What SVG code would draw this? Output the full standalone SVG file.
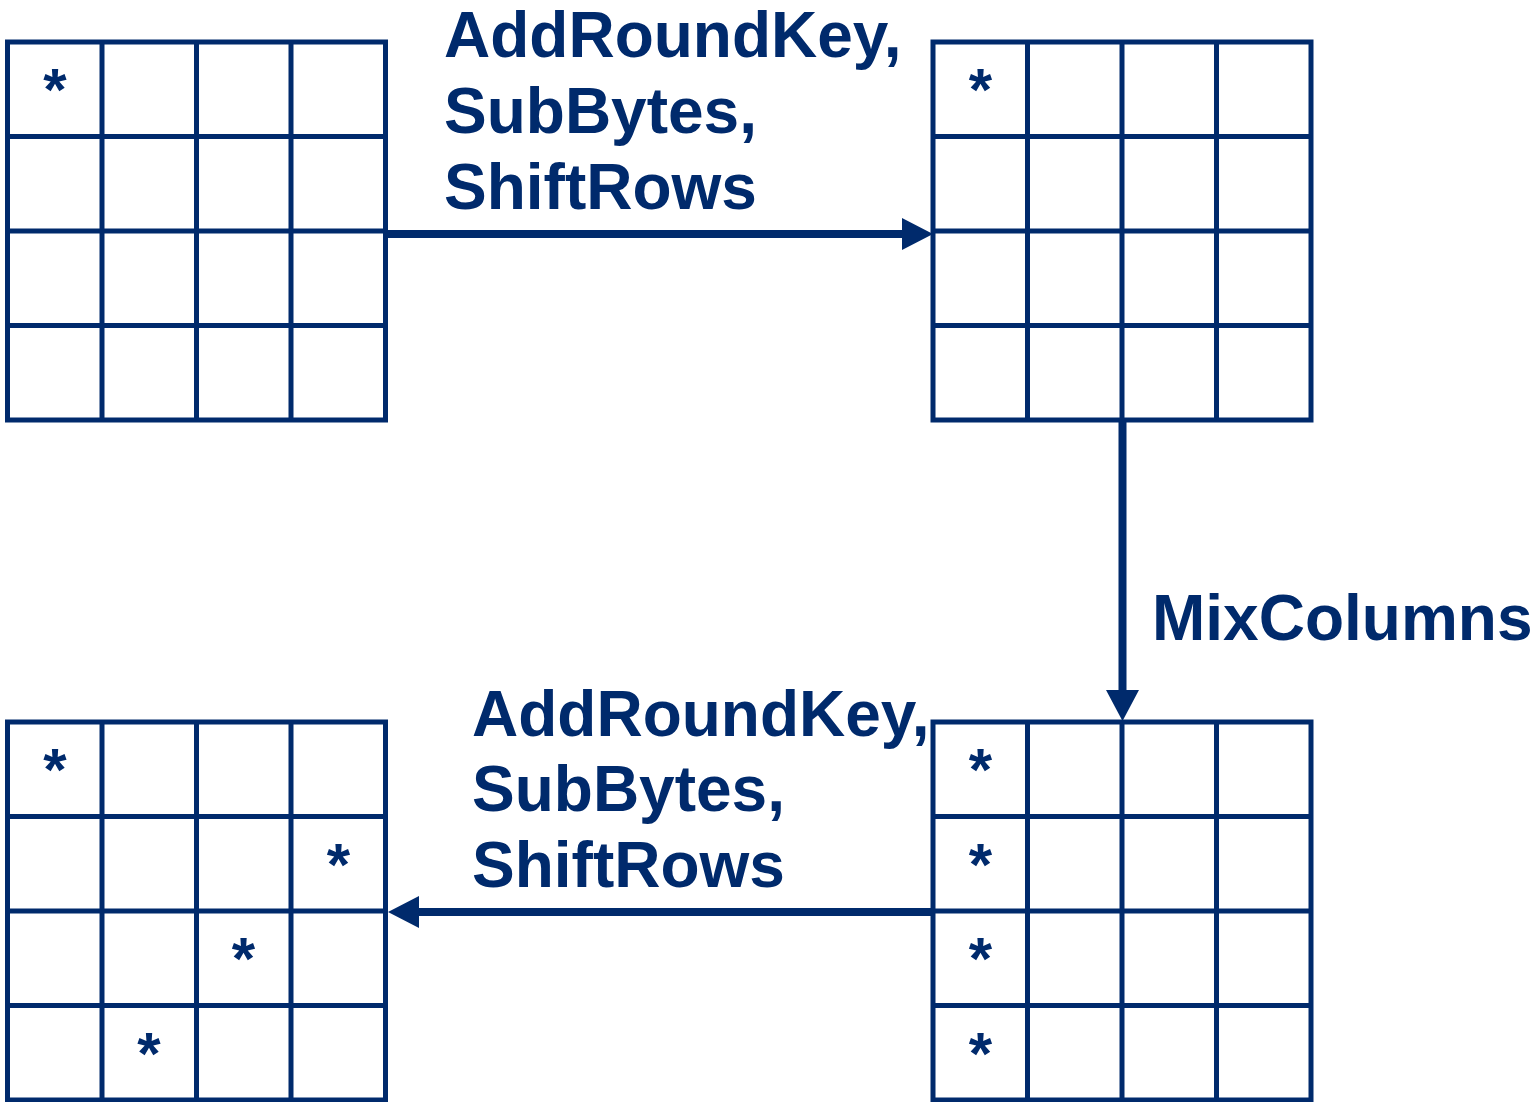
<svg xmlns="http://www.w3.org/2000/svg" width="1531" height="1102" viewBox="0 0 1531 1102">
<style>
.g{fill:none;stroke:#002a6c;stroke-width:5}
.t{font-family:"Liberation Sans",Arial,sans-serif;font-weight:bold;font-size:64px;fill:#002a6c}
.s{font-family:"Liberation Sans",Arial,sans-serif;font-weight:bold;font-size:60px;fill:#002a6c;text-anchor:middle}
.c{stroke:#002a6c;stroke-width:8;fill:none}
.h{fill:#002a6c}
</style>
<defs>
<g id="grid">
<rect class="g" x="0" y="0" width="378" height="378"/>
<path class="g" d="M94.5 0V378M189 0V378M283.5 0V378M0 94.5H378M0 189H378M0 283.5H378"/>
</g>
</defs>
<g id="grid-tl" transform="translate(7.5,42)">
<use href="#grid"/>
<text class="s" x="47.5" y="68">*</text>
</g>
<g id="grid-tr" transform="translate(933,42)">
<use href="#grid"/>
<text class="s" x="47.5" y="68">*</text>
</g>
<g id="grid-br" transform="translate(933,722)">
<use href="#grid"/>
<text class="s" x="47.5" y="68">*</text>
<text class="s" x="47.5" y="162.5">*</text>
<text class="s" x="47.5" y="257">*</text>
<text class="s" x="47.5" y="351.5">*</text>
</g>
<g id="grid-bl" transform="translate(7.5,722)">
<use href="#grid"/>
<text class="s" x="47.5" y="68">*</text>
<text class="s" x="331" y="162.5">*</text>
<text class="s" x="236" y="257">*</text>
<text class="s" x="141.5" y="351.5">*</text>
</g>
<g id="connectors">
<path class="c" d="M385.5 234H903"/>
<polygon class="h" points="933,234 902,218 902,250"/>
<path class="c" d="M1122.5 421V692"/>
<polygon class="h" points="1122.5,721 1106,690 1139,690"/>
<path class="c" d="M933 912H418"/>
<polygon class="h" points="388,912 419,896 419,928"/>
</g>
<g id="labels">
<text class="t" x="444" y="57">AddRoundKey,</text>
<text class="t" x="444" y="133">SubBytes,</text>
<text class="t" x="444" y="209">ShiftRows</text>
<text class="t" x="1152" y="640">MixColumns</text>
<text class="t" x="472" y="736">AddRoundKey,</text>
<text class="t" x="472" y="811">SubBytes,</text>
<text class="t" x="472" y="887">ShiftRows</text>
</g>
</svg>
